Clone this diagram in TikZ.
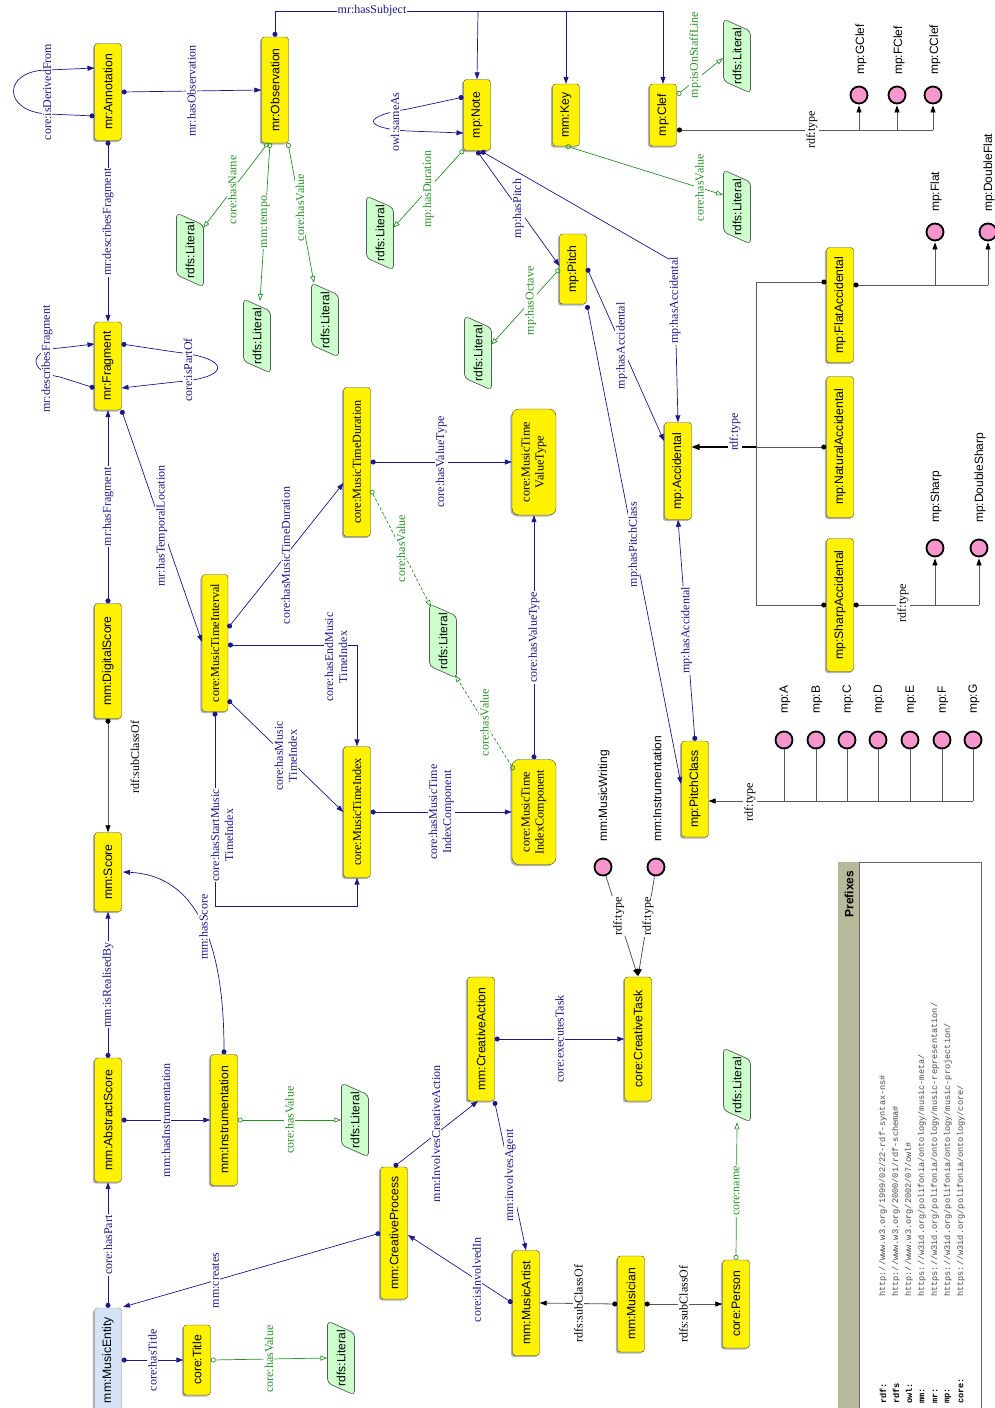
\documentclass[tikz,border=0pt]{standalone}
\usepackage{fontspec}
\setmainfont{Liberation Serif}
\setsansfont{Liberation Sans}
\setmonofont{Liberation Mono}
\usetikzlibrary{arrows.meta,calc,shadows}
\definecolor{obcol}{RGB}{25,25,135}
\definecolor{dpcol}{RGB}{40,145,40}
\definecolor{litgreen}{RGB}{204,255,204}
\definecolor{indpink}{RGB}{245,150,205}
\definecolor{entblue}{RGB}{212,228,246}
\definecolor{hdr}{RGB}{184,184,154}
\definecolor{urigray}{RGB}{75,75,75}
\newcommand{\mklit}[3]{%
  \draw[draw=black!65, line width=0.7pt, fill=litgreen, rounded corners=4pt]
    (#2-13.5,#3-37) -- (#2+13.5,#3-25) -- (#2+13.5,#3+37) -- (#2-13.5,#3+25) -- cycle;
  \node[littext] (#1) at (#2,#3) {rdfs:Literal};}
\begin{document}
\begin{tikzpicture}[x=1pt,y=-1pt,
  cls/.style={draw=black!75, fill=yellow, rounded corners=3pt, rotate=90, minimum height=27pt, inner sep=1pt, font=\sffamily\fontsize{12.2}{14}\selectfont, drop shadow={shadow xshift=-1.6pt, shadow yshift=-1.6pt, fill=black, opacity=0.3}},
  scls/.style={cls, font=\rmfamily\fontsize{12.2}{14}\selectfont, align=center},
  littext/.style={rectangle, rotate=90, minimum width=74pt, minimum height=27pt, inner sep=0pt, font=\sffamily\fontsize{12}{14}\selectfont},
  ind/.style={circle, draw=black, line width=1.8pt, fill=indpink, minimum size=17pt, inner sep=0pt},
  ilab/.style={rotate=90, anchor=west, font=\sffamily\fontsize{12}{14}\selectfont, inner sep=0pt},
  elb/.style={fill=white, inner sep=1pt, font=\rmfamily\fontsize{12}{14}\selectfont, text=obcol, align=center},
  el/.style={elb, rotate=90},
  gl/.style={el, text=dpcol},
  kl/.style={el, text=black},
  ob/.style={draw=obcol, line width=0.7pt, {Circle[length=5pt]}-{Triangle[length=7pt,width=5pt]}},
  obn/.style={draw=obcol, line width=0.7pt, -{Triangle[length=7pt,width=5pt]}},
  dp/.style={draw=dpcol, line width=0.7pt, {Circle[open,length=5pt]}-{Triangle[open,length=7pt,width=5pt]}},
  ty/.style={draw=black!65, line width=0.8pt},
  tyar/.style={ty, -{Triangle[length=7pt,width=5pt,color=black]}, shorten >=1pt},
  tydot/.style={ty, {Circle[length=5pt,color=black]}-},
  pfx/.style={rotate=90, anchor=west, inner sep=0pt, font=\ttfamily\bfseries\fontsize{8.6}{10}\selectfont},
  uri/.style={rotate=90, anchor=west, inner sep=0pt, text=urigray, font=\ttfamily\fontsize{8.6}{10}\selectfont}
]
\useasboundingbox (0,0) rectangle (995,1408);

% ---------- classes ----------
\node[cls, minimum width=97pt] (Ann) at (108,92) {mr:Annotation};
\node[cls, minimum width=106pt] (Obs) at (275,90) {mr:Observation};
\node[cls, minimum width=71pt] (Note) at (477,115) {mp:Note};
\node[cls, minimum width=62pt] (Key) at (566,115) {mm:Key};
\node[cls, minimum width=62pt] (Clef) at (663,115) {mp:Clef};
\node[cls, minimum width=70pt] (Pitch) at (573,269) {mp:Pitch};
\node[cls, minimum width=88pt] (Frag) at (108,366) {mr:Fragment};
\node[cls, minimum width=115pt] (DScore) at (108,661) {mm:DigitalScore};
\node[cls, minimum width=97pt] (Acc) at (678,471) {mp:Accidental};
\node[cls, minimum width=115pt] (FlatAcc) at (840,305) {mp:FlatAccidental};
\node[cls, minimum width=141pt] (NatAcc) at (840,447) {mp:NaturalAccidental};
\node[cls, minimum width=133pt] (SharpAcc) at (840,605) {mp:SharpAccidental};
\node[cls, minimum width=96pt] (PClass) at (695,789) {mp:PitchClass};
\node[cls, minimum width=79pt] (Score) at (108,872) {mm:Score};
\node[cls, minimum width=124pt] (AScore) at (108,1120) {mm:AbstractScore};
\node[cls, minimum width=131pt] (Instr) at (224,1120) {mm:Instrumentation};
\node[cls, minimum width=132pt] (CProc) at (394,1233) {mm:CreativeProcess};
\node[cls, minimum width=124pt] (CAct) at (481,1039) {mm:CreativeAction};
\node[cls, minimum width=124pt] (CTask) at (638,1039) {core:CreativeTask};
\node[cls, minimum width=105pt] (MArt) at (526,1303) {mm:MusicArtist};
\node[cls, minimum width=96pt] (Mus) at (631,1304) {mm:Musician};
\node[cls, minimum width=88pt] (Person) at (736,1304) {core:Person};
\node[cls, minimum width=70pt] (Title) at (197,1360) {core:Title};
\node[cls, fill=entblue, draw=black!45, minimum width=104pt] (MEnt) at (108,1360) {mm:MusicEntity};

\node[scls, minimum width=137pt, minimum height=26pt] (MTI) at (215,643) {core:MusicTimeInterval};
\node[scls, minimum width=149pt] (MTD) at (357,462) {core:MusicTimeDuration};
\node[scls, minimum width=106pt, minimum height=44pt, rounded corners=7pt] (MTVT) at (534,462) {core:MusicTime\\ValueType};
\node[scls, minimum width=131pt] (MTIdx) at (357,812) {core:MusicTimeIndex};
\node[scls, minimum width=105pt, minimum height=44pt, rounded corners=7pt] (MTIC) at (534,812) {core:MusicTime\\IndexComponent};

% ---------- literals ----------
\mklit{L1}{190}{250}
\mklit{L2}{257}{336}
\mklit{L3}{325}{320}
\mklit{L4}{380}{233}
\mklit{L5}{478}{353}
\mklit{L6}{737}{56}
\mklit{L7}{737}{207}
\mklit{L8}{443}{641}
\mklit{L9}{355}{1120}
\mklit{L10}{341}{1358}
\mklit{L11}{737}{1085}

% ---------- individuals ----------
\node[ind] (GClef) at (859,95) {};  \node[ilab] at (861,75) {mp:GClef};
\node[ind] (FClef) at (897,95) {};  \node[ilab] at (899,75) {mp:FClef};
\node[ind] (CClef) at (933,95) {};  \node[ilab] at (935,75) {mp:CClef};
\node[ind] (Flat) at (935,232) {};  \node[ilab] at (936,212) {mp:Flat};
\node[ind] (DFlat) at (988,232) {}; \node[ilab] at (989,212) {mp:DoubleFlat};
\node[ind] (Sharp) at (935,548) {}; \node[ilab] at (936,523) {mp:Sharp};
\node[ind] (DSharp) at (979,548) {}; \node[ilab] at (980,523) {mp:DoubleSharp};
\node[ind] (pA) at (784,740) {}; \node[ilab] at (785,714) {mp:A};
\node[ind] (pB) at (816,740) {}; \node[ilab] at (817,714) {mp:B};
\node[ind] (pC) at (847,740) {}; \node[ilab] at (848,714) {mp:C};
\node[ind] (pD) at (878,740) {}; \node[ilab] at (879,714) {mp:D};
\node[ind] (pE) at (910,740) {}; \node[ilab] at (911,714) {mp:E};
\node[ind] (pF) at (942,740) {}; \node[ilab] at (943,714) {mp:F};
\node[ind] (pG) at (973,740) {}; \node[ilab] at (974,714) {mp:G};
\node[ind] (MWrit) at (603,867) {}; \node[ilab] at (604,842) {mm:MusicWriting};
\node[ind] (MInst) at (656,867) {}; \node[ilab] at (657,842) {mm:Instrumentation};

% ---------- annotation / observation ----------
\draw[ob] (Ann.south) -- node[el]{mr:hasObservation} (Obs.north);
\draw[ob] ($(Ann)+(-13.5,24)$) -- (48,114) .. controls (2,112) and (2,70) .. (48,70) -- ($(Ann)+(-13.5,-24)$);
\node[el] at (47,92) {core:isDerivedFrom};
\draw[ob] (Ann.west) -- node[el, pos=0.45]{mr:describesFragment} (Frag.east);

\draw[dp] ($(Obs)+(-7,53)$) -- node[gl, pos=0.55]{core:hasName} ($(L1)+(13,-22)$);
\draw[dp] ($(Obs)+(-5,53)$) -- node[gl, pos=0.5]{mm:tempo} ($(L2)+(3,-35)$);
\draw[dp] ($(Obs)+(13,53)$) -- node[gl, pos=0.46]{core:hasValue} ($(L3)+(-11,-37)$);

\coordinate (hsA) at (275,11);
\coordinate (hsN) at (478,11);
\coordinate (hsK) at (566,11);
\coordinate (hsC) at (663,11);
\draw[ob] (Obs.east) -- (hsA) -- node[elb, pos=0.25]{mr:hasSubject} (hsC) -- (Clef.east);
\draw[obn] (hsN) -- (Note.east);
\draw[obn] (hsK) -- (Key.east);

% ---------- fragment ----------
\draw[ob] ($(Frag)+(-13.5,22)$) -- (60,377) .. controls (28,372) and (28,350) .. (60,348) -- ($(Frag)+(-13.5,-22)$);
\node[el] at (47,359) {mr:describesFragment};
\draw[ob] ($(Frag)+(13.5,-22)$) -- (175,352) .. controls (232,358) and (232,378) .. (175,382) -- ($(Frag)+(13.5,22)$);
\node[el] at (188,370) {core:isPartOf};
\draw[ob] (DScore.east) -- node[el]{mr:hasFragment} (Frag.west);
\draw[ob] ($(Frag)+(13.5,44)$) -- node[el]{mr:hasTemporalLocation} ($(MTI)+(-13,-1)$);

% ---------- scores ----------
\draw[ty, {Circle[length=5pt,color=black]}-{Triangle[length=7pt,width=5pt,color=black]}] (DScore.west) -- (Score.east);
\node[kl, fill=none] at (135,757) {rdf:subClassOf};
\draw[ob] (AScore.east) -- node[el]{mm:isRealisedBy} (Score.west);
\draw[ob] (Instr.east) .. controls (224,930) and (190,875) .. node[el, pos=0.45]{mm:hasScore} ($(Score)+(15,0)$);
\draw[ob] (AScore.south) -- node[el]{mm:hasInstrumentation} (Instr.north);
\draw[dp] (Instr.south) -- node[gl]{core:hasValue} (L9.north);
\draw[ob] (MEnt.east) -- node[el]{core:hasPart} (AScore.west);
\draw[ob] (MEnt.south) -- node[el]{core:hasTitle} (Title.north);
\draw[dp] (Title.south) -- node[gl]{core:hasValue} (L10.north);

% ---------- creative process ----------
\draw[ob] (CProc.north) -- node[el, pos=0.64]{mm:creates} ($(MEnt)+(15,-53)$);
\draw[ob] (CProc.east) -- node[el, pos=0.5]{mm:InvolvesCreativeAction} ($(CAct)+(-3,62)$);
\draw[ob] ($(CAct)+(13.5,62)$) -- node[el]{mm:involvesAgent} (MArt.east);
\draw[ob] (MArt.north) -- node[el, pos=0.34]{core:isInvolvedIn} ($(CProc)+(14,2)$);
\draw[ty, {Circle[length=5pt,color=black]}-{Triangle[length=7pt,width=5pt,color=black]}] (Mus.north) -- node[kl]{rdfs:subClassOf} (MArt.south);
\draw[ty, {Circle[length=5pt,color=black]}-{Triangle[length=7pt,width=5pt,color=black]}] (Mus.south) -- node[kl]{rdfs:subClassOf} (Person.north);
\draw[dp] (Person.east) -- node[gl]{core:name} (L11.west);
\draw[ob] (CAct.south) -- node[el]{core:executesTask} (CTask.north);
\draw[tyar] (MWrit) -- node[kl, pos=0.4]{rdf:type} ($(CTask)+(0,-62)$);
\draw[tyar] (MInst) -- node[kl, pos=0.4]{rdf:type} ($(CTask)+(0,-62)$);

% ---------- music time ----------
\draw[ob] ($(MTI)+(13,-15)$) -- node[el]{core:hasMusicTimeDuration} ($(MTD)+(-13.5,21)$);
\coordinate (endc) at (357,645);
\draw[ob] ($(MTI)+(13,2)$) -- (endc) -- (MTIdx.east);
\node[el] at (336,657) {core:hasEndMusic\\TimeIndex};
\coordinate (stA) at (215,906);
\coordinate (stB) at (357,906);
\draw[ob] (MTI.west) -- (stA) -- (stB) -- (MTIdx.west);
\node[el] at (222,835) {core:hasStartMusic\\TimeIndex};
\draw[ob] ($(MTI)+(13,57)$) -- node[el]{core:hasMusic\\TimeIndex} (MTIdx.north);
\draw[ob] (MTD.south) -- node[el]{core:hasValueType} (MTVT.north);
\draw[dp, densely dashed] ($(MTD)+(14,28)$) -- node[gl]{core:hasValue} ($(L8)+(-12,-34)$);
\draw[dp, densely dashed] ($(MTIC)+(-20,-42)$) -- node[gl]{core:hasValue} ($(L8)+(12,34)$);
\draw[ob] (MTIC.east) -- node[el]{core:hasValueType} (MTVT.west);
\draw[ob] (MTIdx.south) -- node[el]{core:hasMusicTime\\IndexComponent} (MTIC.north);

% ---------- note / pitch ----------
\draw[ob] ($(Note)+(-13.5,-18)$) -- (408,109) .. controls (362,116) and (362,128) .. (408,131) -- ($(Note)+(-13.5,18)$);
\node[el] at (395,122) {owl:sameAs};
\draw[dp] ($(Note)+(-13.5,35)$) -- node[gl]{mp:hasDuration} ($(L4)+(13,-5)$);
\draw[ob] ($(Note)+(0,36)$) -- node[el]{mp:hasPitch} ($(Pitch)+(-13.5,-3)$);
\coordinate (accb) at (674,262);
\draw[ob] ($(Note)+(4,36)$) -- (accb) -- node[el, pos=0.24]{mp:hasAccidental} (Acc.east);
\draw[ob] ($(Pitch)+(14,-1)$) -- node[el, pos=0.45]{mp:hasAccidental} ($(Acc)+(-14,-30)$);
\draw[ob] ($(Pitch)+(14,36)$) -- node[el]{mp:hasPitchClass} ($(PClass)+(-14,-5)$);
\draw[ob] (PClass.east) -- node[el]{mp:hasAccidental} (Acc.west);
\draw[dp] ($(Pitch)+(-13.5,0)$) -- node[gl, pos=0.42]{mp:hasOctave} ($(L5)+(13,-8)$);
\draw[dp] ($(Key)+(0,31)$) -- node[gl, pos=0.85]{core:hasValue} ($(L7)+(-14,-12)$);
\draw[dp] ($(Clef)+(14,-20)$) -- ($(L6)+(-14,2)$);
\node[gl] at (695,55) {mp:isOnStaffLine};

% ---------- clef types ----------
\coordinate (ct1) at (859,130);
\coordinate (ct2) at (897,130);
\coordinate (ct3) at (933,130);
\draw[tydot] ($(Clef)+(14,15)$) -- (ct3);
\node[kl] at (812,130) {rdf:type};
\draw[tyar] (ct1) -- (GClef);
\draw[tyar] (ct2) -- (FClef);
\draw[tyar] (ct3) -- (CClef);

% ---------- accidental types ----------
\coordinate (av1) at (756,282);
\coordinate (av2) at (756,605);
\coordinate (ja) at (756,447);
\draw[ty, {Circle[length=5pt,color=black]}-{Circle[length=5pt,color=black]}] ($(FlatAcc)+(-13.5,-23)$) -- (av1) -- (av2) -- (SharpAcc.north);
\draw[tydot] (NatAcc.north) -- (ja);
\draw[black, line width=1.4pt, -{Triangle[length=8pt,width=6pt]}] (ja) -- ($(Acc)+(13.5,-24)$);
\node[el] at (735,432) {rdf:type};

\coordinate (fa1) at (935,285);
\coordinate (fa2) at (988,285);
\draw[tydot] ($(FlatAcc)+(13.5,-20)$) -- (fa2);
\draw[tyar] (fa1) -- (Flat);
\draw[tyar] (fa2) -- (DFlat);

\coordinate (sa1) at (935,605);
\coordinate (sa2) at (979,605);
\draw[tydot] (SharpAcc.south) -- (sa2);
\node[kl] at (903,603) {rdf:type};
\draw[tyar] (sa1) -- (Sharp);
\draw[tyar] (sa2) -- (DSharp);

% ---------- pitch class types ----------
\coordinate (pc0) at (973,801);
\draw[ty, -{Triangle[length=7pt,width=5pt,color=black]}] (pc0) -- ($(PClass)+(13.5,12)$);
\node[kl] at (750,802) {rdf:type};
\draw[ty] (pA) -- (784,801);
\draw[ty] (pB) -- (816,801);
\draw[ty] (pC) -- (847,801);
\draw[ty] (pD) -- (878,801);
\draw[ty] (pE) -- (910,801);
\draw[ty] (pF) -- (942,801);
\draw[ty] (pG) -- (pc0);

% ---------- prefixes ----------
\draw[black!60, line width=0.8pt, fill=white] (838,862) rectangle (981,1412);
\fill[hdr] (838.4,862.4) rectangle (859,1411.6);
\draw[black!60, line width=0.8pt] (859,862) -- (859,1412);
\node[rotate=90, inner sep=0pt, font=\sffamily\bfseries\fontsize{12}{14}\selectfont] (PrefHead) at (849,894) {Prefixes};
\node[pfx] at (883,1404) {rdf:};
\node[pfx] at (896,1404) {rdfs};
\node[pfx] at (909,1404) {owl:};
\node[pfx] at (922,1404) {mm:};
\node[pfx] at (935,1404) {mr:};
\node[pfx] at (948,1404) {mp:};
\node[pfx] at (961,1404) {core:};
\node[uri] at (883,1297) {http://www.w3.org/1999/02/22-rdf-syntax-ns\#};
\node[uri] at (896,1297) {http://www.w3.org/2000/01/rdf-schema\#};
\node[uri] at (909,1297) {http://www.w3.org/2002/07/owl\#};
\node[uri] at (922,1297) {https://w3id.org/polifonia/ontology/music-meta/};
\node[uri] at (935,1297) {https://w3id.org/polifonia/ontology/music-representation/};
\node[uri] at (948,1297) {https://w3id.org/polifonia/ontology/music-projection/};
\node[uri] at (961,1297) {https://w3id.org/polifonia/ontology/core/};
\end{tikzpicture}
\end{document}
